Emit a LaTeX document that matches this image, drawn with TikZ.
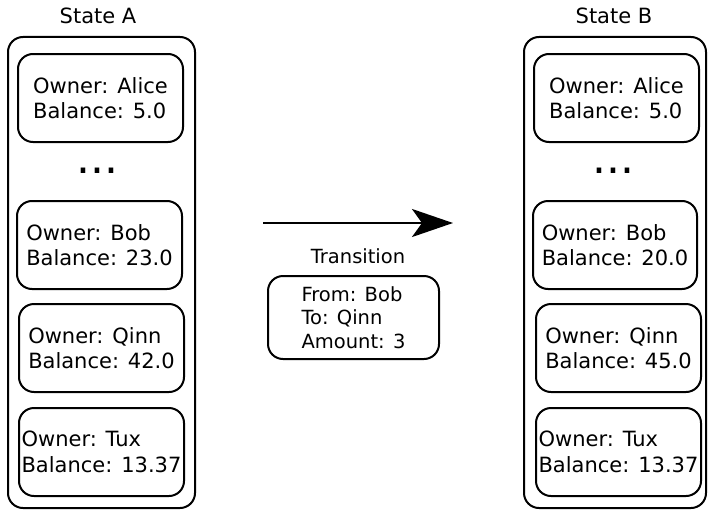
\documentclass[tikz,border=0pt]{standalone}
\usepackage{fontspec}
\setmainfont{DejaVu Sans}
\usepackage{tikz}
\usetikzlibrary{arrows.meta, positioning}

\begin{document}
\begin{tikzpicture}[x=1pt, y=-1pt,
  statebox/.style={draw, line width=2pt, rounded corners=15pt,
    minimum width=187, minimum height=471, inner sep=0pt},
  accbox/.style={draw, line width=2pt, rounded corners=15pt, align=left,
    minimum width=165, minimum height=88, inner sep=0pt,
    font=\fontsize{21}{25.5}\selectfont},
  txbox/.style={draw, line width=2pt, rounded corners=15pt, align=left,
    minimum width=171, minimum height=83, inner sep=0pt,
    font=\fontsize{19.5}{23.5}\selectfont},
  statetitle/.style={anchor=base, inner sep=0pt, font=\fontsize{21}{25}\selectfont},
  gap/.style={anchor=base, inner sep=0pt, font=\fontsize{44}{50}\selectfont}]
\useasboundingbox (0,0) rectangle (708,511);

% ---- state A -----------------------------------------------------------
\node[statebox] (stateA) at (101.5,272.5) {};
\node[statetitle] (titleA) at (98,24) {State A};
\node[accbox] (aAlice) at (100.5,98)  {Owner: Alice\\Balance: 5.0};
\node[gap]    (aGap)   at (97.5,173.3) {...};
\node[accbox] (aBob)   at (99.5,245)  {Owner: Bob\\Balance: 23.0};
\node[accbox] (aQinn)  at (101.5,348) {Owner: Qinn\\Balance: 42.0};
\node[accbox] (aTux)   at (101.5,452) {Owner: Tux\\Balance: 13.37};

% ---- state B -----------------------------------------------------------
\node[statebox, minimum width=182] (stateB) at (615,272.5) {};
\node[statetitle] (titleB) at (614,24) {State B};
\node[accbox] (bAlice) at (616.5,98)  {Owner: Alice\\Balance: 5.0};
\node[gap]    (bGap)   at (613.5,173.3) {...};
\node[accbox, minimum width=164] (bBob) at (615,245) {Owner: Bob\\Balance: 20.0};
\node[accbox] (bQinn)  at (618.5,348) {Owner: Qinn\\Balance: 45.0};
\node[accbox] (bTux)   at (618.5,452) {Owner: Tux\\Balance: 13.37};

% ---- transition --------------------------------------------------------
\coordinate (arrStart) at (263,223);
\coordinate (arrEnd)   at (453,223);
\draw[line width=2.6pt, -{Stealth[length=41pt, width=28pt, inset=10pt]}]
  (arrStart) -- (arrEnd);
\node[statetitle, font=\fontsize{19.5}{23.5}\selectfont] (txLabel) at (358,263) {Transition};
\node[txbox] (tx) at (353.5,317.5) {From: Bob\\To: Qinn\\Amount: 3};
\end{tikzpicture}
\end{document}
